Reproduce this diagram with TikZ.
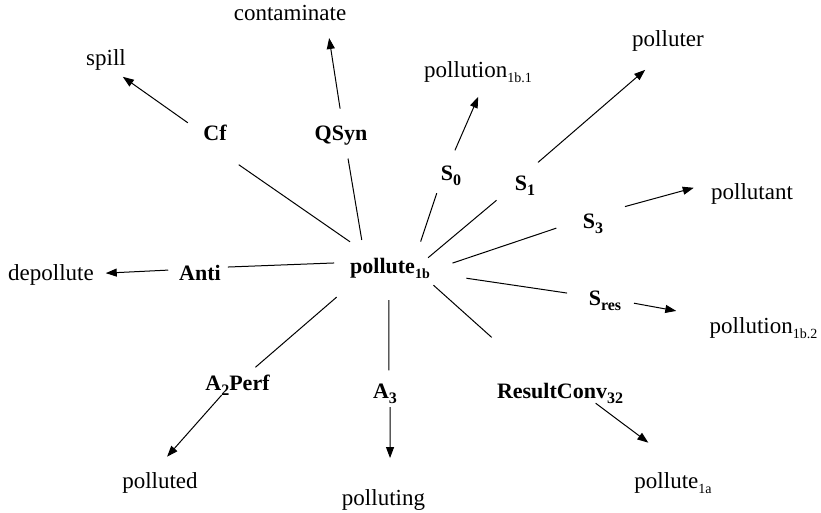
\documentclass[tikz,border=0pt]{standalone}
\usepackage{fontspec}
\setmainfont{Liberation Serif}
\usetikzlibrary{arrows.meta}
% lowered indices for lexemes and for relation names
\newcommand\lsub[1]{\raisebox{-5pt}{\fontsize{14}{14}\selectfont #1}}
\newcommand\rsub[1]{\raisebox{-5pt}{\fontsize{16}{16}\selectfont #1}}
\begin{document}
\begin{tikzpicture}[x=1pt,y=-1pt,
  lex/.style={inner sep=0pt,outer sep=0pt,anchor=base,font=\fontsize{23}{27}\selectfont},
  rel/.style={inner sep=0pt,outer sep=0pt,anchor=base,font=\fontsize{22}{26}\selectfont\bfseries},
  link/.style={line width=1pt,black},
  arr/.style={link,-{Triangle[length=11pt,width=8pt]}}]
\useasboundingbox (0,0) rectangle (821,512);

% the keyword
\node[rel] (hub) at (390,273) {pollute\lsub{1b}};

% lexical functions
\node[rel] (cf)     at (215,140)   {Cf};
\node[rel] (qsyn)   at (341,140)   {QSyn};
\node[rel] (szero)  at (451,180)   {S\rsub{0}};
\node[rel] (sone)   at (525,190)   {S\rsub{1}};
\node[rel] (sthree) at (593,228)   {S\rsub{3}};
\node[rel] (sres)   at (605,305)   {S\rsub{res}};
\node[rel] (anti)   at (200,280)   {Anti};
\node[rel] (atwo)   at (237.5,390) {A\rsub{2}Perf};
\node[rel] (athree) at (385,398)   {A\rsub{3}};
\node[rel] (rconv)  at (560,398)   {ResultConv\rsub{32}};

% values
\node[lex] (contam)    at (290,20)    {contaminate};
\node[lex] (spill)     at (106,65)    {spill};
\node[lex] (polA)      at (478,77)    {pollution\lsub{1b.1}};
\node[lex] (polluter)  at (668,46)    {polluter};
\node[lex] (pollutant) at (752,199)   {pollutant};
\node[lex] (depoll)    at (51,280)    {depollute};
\node[lex] (polB)      at (763.5,333) {pollution\lsub{1b.2}};
\node[lex] (polluted)  at (160,488)   {polluted};
\node[lex] (polluting) at (383.5,505) {polluting};
\node[lex] (polC)      at (673,488)   {pollute\lsub{1a}};

% spokes: keyword -> function, function -> value
\draw[link,shorten <=28pt,shorten >=43pt] (hub.149) -- (cf.south west);
\draw[arr,shorten <=19pt,shorten >=12pt] (cf.187) -- (spill.-56);

\draw[link,shorten <=18pt,shorten >=14pt] (hub.158) -- (qsyn.-64);
\draw[arr,shorten <=17pt,shorten >=18pt] (qsyn.80) -- (contam.-12);

\draw[link,shorten <=17pt,shorten >=13pt] (hub.22) -- (szero.209);
\draw[arr,shorten <=16.5pt,shorten >=16pt] (szero.105) -- (polA.-58);

\draw[link,shorten >=24pt] (hub.15) -- (sone.178);
\draw[arr,shorten <=20pt,shorten >=29pt] (sone.102) -- (polluter.-95);

\draw[link,shorten <=24pt,shorten >=28pt] (hub.-4) -- (sthree.158);
\draw[arr,shorten <=26pt,shorten >=18pt] (sthree.55) -- (pollutant.north west);

\draw[link,shorten <=37pt,shorten >=22pt] (hub.-7) -- (sres.166);
\draw[arr,shorten <=13pt,shorten >=34pt] (sres.-2) -- (polB.north west);

\draw[link,shorten <=10.6pt,shorten >=68pt] (hub.-16) -- (rconv.150);
\draw[arr,shorten >=49pt] (rconv.-16) -- (polC.36);

\draw[link,shorten <=22pt,shorten >=13pt] (hub.-96) -- (athree.68);
\draw[arr,shorten <=4pt,shorten >=31pt] (athree.-63) -- (polluting.58);

\draw[link,shorten <=29pt,shorten >=11pt] (hub.198) -- (atwo.47);
\draw[arr,shorten >=20.5pt] (atwo.213) -- (polluted.122);

\draw[link,shorten <=16pt,shorten >=7pt] (hub.172) -- (anti.14);
\draw[arr,shorten <=11pt,shorten >=12pt] (anti.172) -- (depoll.1);
\end{tikzpicture}
\end{document}
